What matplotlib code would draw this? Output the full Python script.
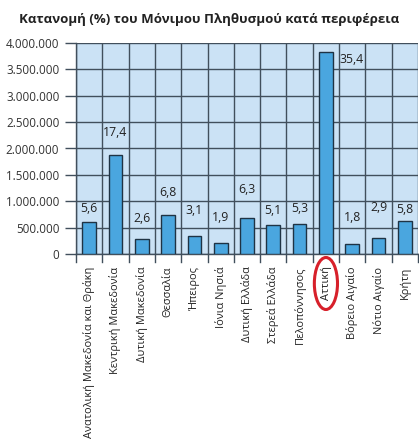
import matplotlib
matplotlib.use("Agg")
import matplotlib.pyplot as plt
from matplotlib.patches import Ellipse

# data
regions = [
    "Ανατολική Μακεδονία και Θράκη", "Κεντρική Μακεδονία", "Δυτική Μακεδονία",
    "Θεσσαλία", "Ήπειρος", "Ιόνια Νησιά", "Δυτική Ελλάδα", "Στερεά Ελλάδα",
    "Πελοπόννησος", "Αττική", "Βόρειο Αιγαίο", "Νότιο Αιγαίο", "Κρήτη",
]
population = [608000, 1882000, 284000, 733000, 337000, 208000, 680000,
              547000, 578000, 3828000, 199000, 309000, 623000]
percent_labels = ["5,6", "17,4", "2,6", "6,8", "3,1", "1,9", "6,3",
                  "5,1", "5,3", "35,4", "1,8", "2,9", "5,8"]
y_ticks = [0, 500000, 1000000, 1500000, 2000000, 2500000, 3000000, 3500000, 4000000]
y_tick_labels = ["0", "500.000", "1.000.000", "1.500.000", "2.000.000",
                 "2.500.000", "3.000.000", "3.500.000", "4.000.000"]
highlight = "Αττική"

plt.rcParams['font.family'] = ['Open Sans', 'DejaVu Sans']

fig = plt.figure(figsize=(4.19, 4.48), dpi=100)
ax = fig.add_axes([76 / 419, 1 - 254 / 448, 342 / 419, 211 / 448])

grid_col = '#414f5c'
ax.set_facecolor('#cbe2f5')
x = list(range(len(regions)))
bars = ax.bar(x, population, width=0.52, color='#4aa6df', edgecolor='#1f3344',
              linewidth=1.0, zorder=3)

ax.set_xlim(-0.5, len(regions) - 0.5)
ax.set_ylim(0, 4000000)
ax.set_yticks(y_ticks)
ax.set_yticklabels(y_tick_labels, fontsize=8.4, color='#333333')
ax.set_xticks(x)
ax.set_xticklabels(regions, rotation=90, fontsize=7.9, color='#222222', va='top')
ax.tick_params(axis='x', length=0, pad=9)
ax.tick_params(axis='y', length=8, width=1.0, color=grid_col, pad=4)

# grid: horizontal at every tick, vertical between categories
ax.yaxis.grid(True, color=grid_col, linewidth=1.0, zorder=1)
ax.set_axisbelow(True)
for b in range(len(regions) + 1):
    ax.axvline(b - 0.5, color=grid_col, linewidth=1.0, zorder=1)
    ax.plot([b - 0.5, b - 0.5], [0, -0.04], transform=ax.get_xaxis_transform(),
            color=grid_col, linewidth=1.0, clip_on=False)
for s in ax.spines.values():
    s.set_color(grid_col)
    s.set_linewidth(1.0)
ax.spines['top'].set_visible(False)
ax.spines['right'].set_visible(False)

# percent labels (offsets in points above each bar, as in the picture)
label_offsets = [5, 11, 10, 12, 14, 14, 16, 6, 6, 0, 14, 17, 4]
biggest = max(range(len(population)), key=lambda k: population[k])
for i, (bar, lab) in enumerate(zip(bars, percent_labels)):
    top = bar.get_height()
    if i == biggest:
        ax.annotate(lab, (bar.get_x() + bar.get_width(), top), xytext=(5, -1),
                    textcoords='offset points', ha='left', va='top',
                    fontsize=8.8, color='#222222', zorder=4)
    else:
        ax.annotate(lab, (bar.get_x() + bar.get_width() / 2, top),
                    xytext=(0, label_offsets[i]), textcoords='offset points',
                    ha='center', va='bottom', fontsize=8.8, color='#222222', zorder=4)

fig.suptitle("Κατανομή (%) του Μόνιμου Πληθυσμού κατά περιφέρεια",
             x=0.5, y=0.972, fontsize=9.5, fontweight='bold', color='#222222')

# red ellipse round the highlighted tick label
fig.canvas.draw()
for t in ax.get_xticklabels():
    if t.get_text() == highlight:
        bb = t.get_window_extent()
        cx, cy = (bb.x0 + bb.x1) / 2, (bb.y0 + bb.y1) / 2
        w, h = bb.width + 12, bb.height + 18
        inv = fig.transFigure.inverted()
        (fx, fy) = inv.transform((cx, cy))
        fig.add_artist(Ellipse((fx, fy), w / fig.bbox.width, h / fig.bbox.height,
                               transform=fig.transFigure, fill=False,
                               edgecolor='#d7202a', linewidth=2.2))

fig.savefig("out.png", dpi=100, facecolor='white')
